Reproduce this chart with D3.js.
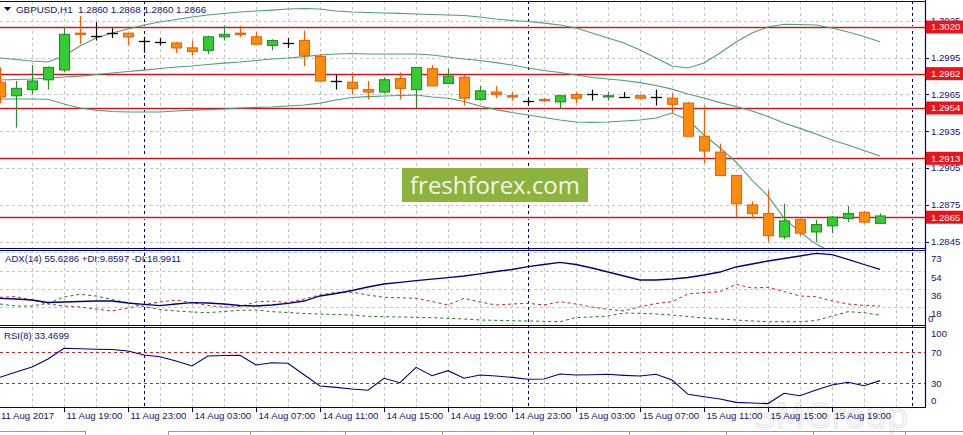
<!DOCTYPE html>
<html><head><meta charset="utf-8">
<script src="https://cdn.jsdelivr.net/npm/d3@7"></script>
<style>
html,body{margin:0;padding:0;background:#fff;overflow:hidden}
svg{display:block;font-family:"Liberation Sans",Arial,sans-serif}
</style></head><body>
<svg id="c" width="963" height="435"></svg>
<script>
// ---------------- DATA ----------------
const symbolTitle = "GBPUSD,H1  1.2860 1.2868 1.2860 1.2866";
const adxTitle = "ADX(14) 55.6286 +DI:9.8597 -DI:18.9911";
const rsiTitle = "RSI(8) 33.4699";

const open  = [1.2975,1.2964,1.2969,1.2977,1.2985,1.3015,1.3013,1.3015,1.3015,1.3009,1.3008,1.3007,1.3003,1.3001,1.3012,1.3015,1.3012,1.3005,1.3007,1.3009,1.2996,1.2976,1.2975,1.2969,1.2967,1.2978,1.2969,1.2986,1.2974,1.2979,1.2961,1.2967,1.2964,1.2960,1.2961,1.2959,1.2965,1.2965,1.2963,1.2963,1.2964,1.2963,1.2962,1.2958,1.2931,1.2918,1.2899,1.2875,1.2868,1.2849,1.2863,1.2853,1.2858,1.2864,1.2869,1.2860];
const high  = [1.2987,1.2976,1.2989,1.2988,1.3020,1.3029,1.3024,1.3019,1.3015,1.3012,1.3011,1.3008,1.3009,1.3013,1.3021,1.3021,1.3016,1.3010,1.3011,1.3017,1.2998,1.2981,1.2983,1.2976,1.2979,1.2983,1.2987,1.2989,1.2986,1.2981,1.2972,1.2972,1.2967,1.2962,1.2962,1.2964,1.2967,1.2969,1.2967,1.2967,1.2965,1.2969,1.2966,1.2959,1.2956,1.2925,1.2899,1.2878,1.2887,1.2876,1.2864,1.2863,1.2866,1.2874,1.2870,1.2868];
const low   = [1.2958,1.2938,1.2965,1.2969,1.2983,1.3006,1.3009,1.3011,1.3005,1.2999,1.3005,1.2999,1.2997,1.2998,1.3009,1.3012,1.3006,1.3001,1.3003,1.2988,1.2975,1.2969,1.2965,1.2961,1.2966,1.2961,1.2954,1.2972,1.2974,1.2956,1.2960,1.2962,1.2960,1.2956,1.2959,1.2953,1.2958,1.2960,1.2960,1.2963,1.2961,1.2956,1.2950,1.2931,1.2909,1.2899,1.2865,1.2864,1.2845,1.2847,1.2850,1.2845,1.2852,1.2861,1.2860,1.2860];
const close = [1.2963,1.2970,1.2976,1.2987,1.3014,1.3014,1.3013,1.3015,1.3012,1.3009,1.3008,1.3003,1.3000,1.3012,1.3014,1.3014,1.3006,1.3009,1.3007,1.2997,1.2976,1.2976,1.2970,1.2967,1.2977,1.2970,1.2987,1.2972,1.2980,1.2962,1.2968,1.2965,1.2963,1.2960,1.2960,1.2964,1.2962,1.2965,1.2964,1.2963,1.2962,1.2963,1.2957,1.2931,1.2919,1.2899,1.2876,1.2868,1.2850,1.2862,1.2852,1.2859,1.2865,1.2868,1.2861,1.2866];

const bbUpper  = [1.29947,1.29935,1.29923,1.29915,1.29964,1.30045,1.30110,1.30151,1.30184,1.30216,1.30241,1.30261,1.30281,1.30298,1.30310,1.30322,1.30330,1.30338,1.30347,1.30351,1.30347,1.30330,1.30322,1.30318,1.30314,1.30311,1.30306,1.30302,1.30298,1.30294,1.30281,1.30265,1.30253,1.30245,1.30232,1.30216,1.30192,1.30151,1.30110,1.30069,1.30012,1.29947,1.29882,1.29866,1.29906,1.29988,1.30078,1.30151,1.30200,1.30222,1.30220,1.30216,1.30192,1.30159,1.30122,1.30080];
const bbMiddle = [1.29768,1.29772,1.29776,1.29784,1.29792,1.29800,1.29813,1.29825,1.29837,1.29849,1.29862,1.29874,1.29882,1.29894,1.29906,1.29915,1.29927,1.29939,1.29947,1.29959,1.29972,1.29980,1.29984,1.29980,1.29980,1.29980,1.29980,1.29972,1.29955,1.29939,1.29927,1.29910,1.29890,1.29866,1.29845,1.29829,1.29809,1.29788,1.29776,1.29764,1.29747,1.29723,1.29694,1.29654,1.29621,1.29584,1.29552,1.29515,1.29470,1.29417,1.29374,1.29328,1.29279,1.29238,1.29193,1.29148];
const bbLower  = [1.29613,1.29613,1.29613,1.29611,1.29572,1.29540,1.29523,1.29511,1.29507,1.29507,1.29507,1.29515,1.29523,1.29527,1.29532,1.29540,1.29545,1.29548,1.29556,1.29564,1.29580,1.29605,1.29625,1.29633,1.29638,1.29642,1.29646,1.29629,1.29619,1.29593,1.29556,1.29527,1.29503,1.29483,1.29462,1.29442,1.29426,1.29423,1.29426,1.29434,1.29442,1.29458,1.29499,1.29442,1.29320,1.29214,1.29100,1.28953,1.28822,1.28643,1.28529,1.28431,1.28366,1.28317,1.28285,1.28252];

const levels = [1.3020,1.2982,1.2954,1.2913,1.2865];
const priceTicks = [1.2845,1.2875,1.2905,1.2935,1.2965,1.2995,1.3025];

const adx    = [26.7,26,25,22.5,23,23.5,24,24,22,20.7,19.3,21,22.3,22,21,19.5,19,20,21.7,24,29,31.5,34.5,38,41,42.7,44.3,45.8,47.3,49,51.2,53.5,55.5,58.3,60.5,62.7,60.5,57,53,49,45,45,46,47.5,50,53,58,61,64,66.5,69,71.7,70.3,65.7,60.5,55.63];
const plusDI = [21,19,19,21.7,28,30.7,29,25.5,22.2,18.5,15.5,14,13,12.3,13.5,14.7,15,13.3,12.5,11.5,11,10.5,10,8.7,8.3,8,7.7,7.3,6.7,6,5,4.7,4.3,4,3.7,3.3,7.5,8,9,12,11.7,11,10,8.5,7,6,5,4,3.3,3.3,3.3,4.5,9,13.3,12.3,9.86];
const minusDI= [27.7,28.3,25,21,19,18,16,14,17,20.5,23,25,22.3,19.5,17.7,18.5,23,24,22.3,26,30,32.7,32.7,30,27.7,27.2,26.7,23.5,20,26.7,23,20,21,21.7,20,23.3,21,18,15.7,14,18.3,21.5,23.3,31,32.5,33.3,40.7,37,37.7,33.5,29,28.3,24,21,19.5,18.99];
const adxTicks = [73,54,36,18,0];

const rsi = [37.7,44.6,51,61.4,75.2,74.6,74,73.6,71.7,66.5,64.3,58.8,52.3,65.2,65.9,66.1,53.6,56.6,55.8,41,26.5,24.8,22.6,21,36.5,30.8,50.6,39.8,46.3,36.5,40.7,39.4,37.7,35.2,35.5,42,40.7,41.1,41.6,40.3,39.4,41.6,34.3,15.8,12.7,9.7,5.5,4.6,3.9,17.1,14,21.4,27.8,31.3,26.9,33.47];
const rsiTicks = [100,70,30,0];
const rsiLevels = [70,30];

const timeLabels = ["11 Aug 2017","11 Aug 19:00","11 Aug 23:00","14 Aug 03:00","14 Aug 07:00","14 Aug 11:00","14 Aug 15:00","14 Aug 19:00","14 Aug 23:00","15 Aug 03:00","15 Aug 07:00","15 Aug 11:00","15 Aug 15:00","15 Aug 19:00"];
const daySeparators = [9,33,57]; // bar index where a new day starts

// ---------------- LAYOUT ----------------
const RIGHT = 925;
const MAIN = {top:1, bottom:248};
const ADXP = {top:250, bottom:325};
const RSIP = {top:327, bottom:407};
const NAVY = "#000080";
const TXT = "#14146e";
const GRID = "#c6c6c6";

const svg = d3.select("#c");
const x = d3.scaleLinear().domain([0, RIGHT/16]).range([0, RIGHT]);
const yP = d3.scaleLinear().domain([1.28399, 1.30412]).range([MAIN.bottom, MAIN.top]);
const yA = d3.scaleLinear().domain([0, 75]).range([ADXP.bottom, ADXP.top]);
const yR = d3.scaleLinear().domain([0, 100]).range([406.6, 329]);

const defs = svg.append("defs");
function clip(id, p){ defs.append("clipPath").attr("id",id).append("rect").attr("x",0).attr("y",p.top).attr("width",RIGHT).attr("height",p.bottom-p.top); }
clip("cm",MAIN); clip("ca",ADXP); clip("cr",RSIP);

svg.append("rect").attr("width",963).attr("height",435).attr("fill","#fff");

// faint bottom-right watermark (behind everything)
svg.append("text").attr("x",754).attr("y",428).style("font-size","34px").style("font-family","'DejaVu Sans',sans-serif")
  .attr("fill","#fafafa").attr("stroke","#e4e4e4").attr("stroke-width",1).text("SMGroup");

// vertical grid in each panel
const gridBars = d3.range(2, 58, 2);
[MAIN,ADXP,RSIP].forEach(p=>{
  svg.append("g").selectAll("line").data(gridBars).join("line")
    .attr("x1",d=>Math.round(x(d))+0.5).attr("x2",d=>Math.round(x(d))+0.5)
    .attr("y1",p.top).attr("y2",p.bottom)
    .attr("stroke",GRID).attr("stroke-dasharray","3,3").attr("stroke-width",1);
});
// horizontal grid
svg.append("g").selectAll("line").data(priceTicks).join("line")
  .attr("x1",0).attr("x2",RIGHT).attr("y1",d=>Math.round(yP(d))+0.5).attr("y2",d=>Math.round(yP(d))+0.5)
  .attr("stroke",GRID).attr("stroke-dasharray","3,3");
svg.append("g").selectAll("line").data(adxTicks.filter(v=>v>0)).join("line")
  .attr("x1",0).attr("x2",RIGHT).attr("y1",d=>Math.round(yA(d))+0.5).attr("y2",d=>Math.round(yA(d))+0.5)
  .attr("stroke",GRID).attr("stroke-dasharray","3,3");

// day separators
svg.append("g").selectAll("line").data(daySeparators).join("line")
  .attr("x1",d=>Math.round(x(d))+0.5).attr("x2",d=>Math.round(x(d))+0.5)
  .attr("y1",MAIN.top).attr("y2",RSIP.bottom)
  .attr("stroke",NAVY).attr("stroke-dasharray","3,3").attr("stroke-width",1);

// watermark box
const wm = svg.append("g");
wm.append("rect").attr("x",402).attr("y",168).attr("width",186).attr("height",34).attr("fill","#8db33f");
const wt = wm.append("text").attr("x",495).attr("y",194).attr("text-anchor","middle")
  .attr("fill","#f5f5ea").style("font-family","'Open Sans',sans-serif").style("font-size","26px").text("freshforex.com");
(function(){const L=wt.node().getComputedTextLength(); wt.style("font-size",(26*170/L).toFixed(2)+"px");})();

// main panel content
const gm = svg.append("g").attr("clip-path","url(#cm)");
// level lines
levels.forEach(v=>{
  const yy = Math.round(yP(v))+0.5;
  gm.append("line").attr("x1",0).attr("x2",RIGHT).attr("y1",yy).attr("y2",yy).attr("stroke","#f6caca").attr("stroke-width",3);
  gm.append("line").attr("x1",0).attr("x2",RIGHT).attr("y1",yy).attr("y2",yy).attr("stroke","#c8161e").attr("stroke-width",1.2);
});
// bollinger bands
const bbLine = arr => d3.line().x((d,i)=>x(i)).y(d=>yP(d))(arr);
[bbUpper,bbMiddle,bbLower].forEach(arr=>{
  gm.append("path").attr("d",bbLine(arr)).attr("fill","none").attr("stroke","#4f9f78").attr("stroke-width",1.1);
});
// candles
const candles = open.map((o,i)=>({i,o,h:high[i],l:low[i],c:close[i]}));
candles.forEach(d=>{
  const cx = Math.round(x(d.i))+0.5;
  const doji = d.o===d.c, up = d.c>d.o;
  const wickCol = doji ? "#000" : (up ? "#2c8a2c" : "#ec5d0c");
  gm.append("line").attr("x1",cx).attr("x2",cx).attr("y1",yP(d.h)).attr("y2",yP(d.l))
    .attr("stroke",wickCol).attr("stroke-width",1.2);
  if(doji){
    const yy = Math.round(yP(d.o))+0.5;
    gm.append("line").attr("x1",cx-5.5).attr("x2",cx+5.5).attr("y1",yy).attr("y2",yy).attr("stroke","#000").attr("stroke-width",1.3);
  } else {
    const t = yP(Math.max(d.o,d.c)), b = yP(Math.min(d.o,d.c));
    gm.append("rect").attr("x",cx-5).attr("y",t).attr("width",10).attr("height",Math.max(b-t,1.2))
      .attr("fill",up?"#33cc33":"#ff8c0c").attr("stroke",up?"#2a8a2a":"#e8620e").attr("stroke-width",1.1);
  }
});

// ADX panel
const ga = svg.append("g").attr("clip-path","url(#ca)");
const la = arr => d3.line().x((d,i)=>x(i)).y(d=>yA(d))(arr);
ga.append("path").attr("d",la(minusDI)).attr("fill","none").attr("stroke","#c0282a").attr("stroke-width",1).attr("stroke-dasharray","3,3");
ga.append("path").attr("d",la(plusDI)).attr("fill","none").attr("stroke","#1d7a1d").attr("stroke-width",1).attr("stroke-dasharray","3,3");
ga.append("path").attr("d",la(adx)).attr("fill","none").attr("stroke",NAVY).attr("stroke-width",1.3);

// RSI panel
const gr = svg.append("g").attr("clip-path","url(#cr)");
rsiLevels.forEach(v=>{
  const yy = Math.round(yR(v))+0.5;
  gr.append("line").attr("x1",0).attr("x2",RIGHT).attr("y1",yy).attr("y2",yy).attr("stroke","#c0282a").attr("stroke-dasharray","3,3");
});
gr.append("path").attr("d",d3.line().x((d,i)=>x(i)).y(d=>yR(d))(rsi)).attr("fill","none").attr("stroke",NAVY).attr("stroke-width",1.1);

// panel frames
[MAIN.top, MAIN.bottom, ADXP.top, ADXP.bottom, RSIP.top, RSIP.bottom].forEach(yy=>{
  svg.append("line").attr("x1",0).attr("x2",RIGHT+1).attr("y1",yy+0.5).attr("y2",yy+0.5).attr("stroke",NAVY).attr("stroke-width",1.2);
});
svg.append("line").attr("x1",RIGHT+0.5).attr("x2",RIGHT+0.5).attr("y1",0).attr("y2",RSIP.bottom+1).attr("stroke",NAVY).attr("stroke-width",1.2);

// axis labels
const fs = "9.6px";
const axR = svg.append("g").style("font-size",fs).attr("fill",TXT);
priceTicks.forEach(v=>{
  axR.append("line").attr("x1",RIGHT).attr("x2",RIGHT+4).attr("y1",Math.round(yP(v))+0.5).attr("y2",Math.round(yP(v))+0.5).attr("stroke",NAVY);
  axR.append("text").attr("x",931).attr("y",yP(v)).attr("dy","0.35em").text(d3.format(".4f")(v));
});
levels.forEach(v=>{
  const yy = yP(v);
  svg.append("rect").attr("x",926).attr("y",yy-6.5).attr("width",37).attr("height",13).attr("fill","#e8131b");
  svg.append("text").attr("x",931).attr("y",yy).attr("dy","0.35em").style("font-size",fs).attr("fill","#fff").text(d3.format(".4f")(v));
});
adxTicks.forEach(v=>{
  const yy = Math.min(yA(v)+6.5, ADXP.bottom-6.5);
  axR.append("text").attr("x",v===0?928:931).attr("y",yy).attr("dy","0.35em").text(v);
});
rsiTicks.forEach(v=>{
  const yy = Math.max(RSIP.top+7, Math.min(yR(v), RSIP.bottom-6.5));
  axR.append("text").attr("x",931).attr("y",yy).attr("dy","0.35em").text(v);
});

// time axis
const axB = svg.append("g").style("font-size",fs).attr("fill",TXT);
timeLabels.forEach((t,k)=>{
  const xx = Math.round(x(k*4))+0.5;
  if(k>0) axB.append("line").attr("x1",xx).attr("x2",xx).attr("y1",RSIP.bottom).attr("y2",RSIP.bottom+5).attr("stroke",NAVY);
  axB.append("text").attr("x",k===0?1:xx+2).attr("y",419).text(t);
});

// titles
svg.append("path").attr("d","M4,7 L11,7 L7.5,11 Z").attr("fill",NAVY);
svg.append("text").attr("x",16).attr("y",13).style("font-size","9.8px").attr("fill",TXT).attr("xml:space","preserve").style("white-space","pre").text(symbolTitle);
svg.append("text").attr("x",5).attr("y",262).style("font-size",fs).attr("fill",TXT).text(adxTitle);
svg.append("text").attr("x",4).attr("y",339).style("font-size",fs).attr("fill",TXT).text(rsiTitle);

// tab bar
const tb = svg.append("g").attr("stroke","#9a9a9a");
tb.append("line").attr("x1",0).attr("x2",85).attr("y1",431.5).attr("y2",431.5);
tb.append("line").attr("x1",168).attr("x2",963).attr("y1",431.5).attr("y2",431.5);
[85,168,250,345,442,533,629,726,813,905].forEach(xx=>tb.append("line").attr("x1",xx+0.5).attr("x2",xx+0.5).attr("y1",431).attr("y2",435));
</script>
</body></html>
